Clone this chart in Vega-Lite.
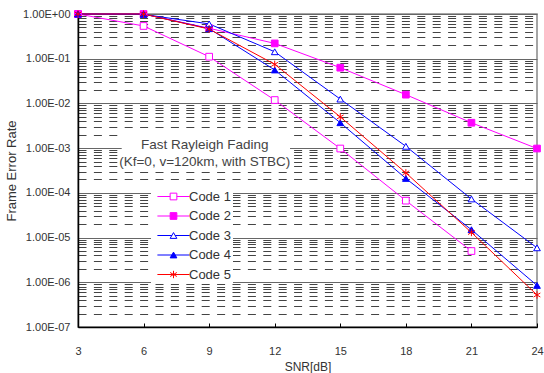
{
  "$schema": "https://vega.github.io/schema/vega-lite/v6.json",
  "width": 459,
  "height": 313,
  "autosize": {"type": "none"},
  "padding": {"left": 78, "top": 14, "right": 7, "bottom": 46},
  "background": "white",
  "config": {
    "font": "Liberation Sans",
    "view": {"stroke": "#888888", "strokeWidth": 1.5},
    "legend": {
      "orient": "none",
      "legendX": 73,
      "legendY": 174,
      "padding": 2,
      "symbolSize": 49,
      "symbolStrokeWidth": 1,
      "symbolOpacity": 1,
      "symbolOffset": 14,
      "labelOffset": 9,
      "labelFontSize": 13,
      "labelColor": "#333333",
      "rowPadding": 5.5
    }
  },
  "resolve": {"scale": {"color": "independent", "fill": "independent", "shape": "independent", "size": "independent"}},
  "datasets": {
    "fer": [
      {"snr": 3, "fer": 1.0, "code": "Code 1"},
      {"snr": 6, "fer": 0.54, "code": "Code 1"},
      {"snr": 9, "fer": 0.111, "code": "Code 1"},
      {"snr": 12, "fer": 0.0119, "code": "Code 1"},
      {"snr": 15, "fer": 0.00098, "code": "Code 1"},
      {"snr": 18, "fer": 6.7e-5, "code": "Code 1"},
      {"snr": 21, "fer": 5.0e-6, "code": "Code 1"},
      {"snr": 3, "fer": 1.0, "code": "Code 2"},
      {"snr": 6, "fer": 1.0, "code": "Code 2"},
      {"snr": 9, "fer": 0.48, "code": "Code 2"},
      {"snr": 12, "fer": 0.22, "code": "Code 2"},
      {"snr": 15, "fer": 0.063, "code": "Code 2"},
      {"snr": 18, "fer": 0.0157, "code": "Code 2"},
      {"snr": 21, "fer": 0.0037, "code": "Code 2"},
      {"snr": 24, "fer": 0.00098, "code": "Code 2"},
      {"snr": 3, "fer": 1.0, "code": "Code 3"},
      {"snr": 6, "fer": 0.98, "code": "Code 3"},
      {"snr": 9, "fer": 0.6, "code": "Code 3"},
      {"snr": 12, "fer": 0.143, "code": "Code 3"},
      {"snr": 15, "fer": 0.0125, "code": "Code 3"},
      {"snr": 18, "fer": 0.0011, "code": "Code 3"},
      {"snr": 21, "fer": 7.3e-5, "code": "Code 3"},
      {"snr": 24, "fer": 5.9e-6, "code": "Code 3"},
      {"snr": 3, "fer": 1.0, "code": "Code 4"},
      {"snr": 6, "fer": 1.0, "code": "Code 4"},
      {"snr": 9, "fer": 0.47, "code": "Code 4"},
      {"snr": 12, "fer": 0.056, "code": "Code 4"},
      {"snr": 15, "fer": 0.0037, "code": "Code 4"},
      {"snr": 18, "fer": 0.00021, "code": "Code 4"},
      {"snr": 21, "fer": 1.5e-5, "code": "Code 4"},
      {"snr": 24, "fer": 8.5e-7, "code": "Code 4"},
      {"snr": 3, "fer": 1.0, "code": "Code 5"},
      {"snr": 6, "fer": 1.0, "code": "Code 5"},
      {"snr": 9, "fer": 0.46, "code": "Code 5"},
      {"snr": 12, "fer": 0.075, "code": "Code 5"},
      {"snr": 15, "fer": 0.005, "code": "Code 5"},
      {"snr": 18, "fer": 0.00028, "code": "Code 5"},
      {"snr": 21, "fer": 1.3e-5, "code": "Code 5"},
      {"snr": 24, "fer": 5.2e-7, "code": "Code 5"}
    ],
    "note": [
      {"line1": "Fast Rayleigh Fading", "line2": "(Kf=0, v=120km, with STBC)"}
    ]
  },
  "layer": [
    {
      "data": {"name": "note"},
      "mark": {"type": "rect", "fill": "white", "zindex": 1},
      "encoding": {
        "x": {"datum": 5.0, "type": "quantitative"},
        "x2": {"datum": 12.7},
        "y": {"datum": 0.0022, "type": "quantitative"},
        "y2": {"datum": 0.00033}
      }
    },
    {
      "data": {"name": "note"},
      "mark": {"type": "text", "fontSize": 13.5, "color": "#444444", "lineHeight": 17, "align": "center", "baseline": "middle", "zindex": 2},
      "encoding": {
        "x": {"datum": 8.8, "type": "quantitative"},
        "y": {"datum": 0.00115, "type": "quantitative"},
        "text": {"value": ["Fast Rayleigh Fading", "(Kf=0, v=120km, with STBC)"]}
      }
    },
    {
      "data": {"name": "fer"},
      "mark": {"type": "line", "strokeWidth": 1, "zindex": 3},
      "encoding": {
        "x": {
          "field": "snr",
          "type": "quantitative",
          "scale": {"domain": [3, 24], "nice": false, "zero": false},
          "axis": {
            "values": [3, 6, 9, 12, 15, 18, 21, 24],
            "grid": false,
            "title": "SNR[dB]",
            "titleFontSize": 12,
            "titleFontWeight": "normal",
            "titleColor": "#333333",
            "titlePadding": 5,
            "labelFontSize": 11,
            "labelColor": "#333333",
            "labelPadding": 22,
            "tickSize": -4,
            "tickColor": "#000000",
            "domainColor": "#000000",
            "domainWidth": 1.5,
            "labelFlush": false,
            "labelOverlap": false
          }
        },
        "y": {
          "field": "fer",
          "type": "quantitative",
          "scale": {"type": "log", "domain": [1e-7, 1], "nice": false},
          "axis": {
            "values": [1e-7, 2e-7, 3e-7, 4e-7, 5e-7, 6e-7, 7e-7, 8e-7, 9e-7,
                       1e-6, 2e-6, 3e-6, 4e-6, 5e-6, 6e-6, 7e-6, 8e-6, 9e-6,
                       1e-5, 2e-5, 3e-5, 4e-5, 5e-5, 6e-5, 7e-5, 8e-5, 9e-5,
                       1e-4, 2e-4, 3e-4, 4e-4, 5e-4, 6e-4, 7e-4, 8e-4, 9e-4,
                       1e-3, 2e-3, 3e-3, 4e-3, 5e-3, 6e-3, 7e-3, 8e-3, 9e-3,
                       1e-2, 2e-2, 3e-2, 4e-2, 5e-2, 6e-2, 7e-2, 8e-2, 9e-2,
                       1e-1, 2e-1, 3e-1, 4e-1, 5e-1, 6e-1, 7e-1, 8e-1, 9e-1, 1],
            "labelExpr": "abs(log(datum.value)/LN10 - round(log(datum.value)/LN10)) < 0.001 ? '1.00E' + (round(log(datum.value)/LN10) >= 0 ? '+' : '-') + '0' + abs(round(log(datum.value)/LN10)) : ''",
            "labelOverlap": false,
            "labelBound": false,
            "labelFlush": false,
            "labelFontSize": 11,
            "labelColor": "#333333",
            "labelPadding": 8,
            "ticks": false,
            "domainColor": "#000000",
            "domainWidth": 1.5,
            "grid": true,
            "gridColor": {"condition": {"test": "abs(log(datum.value)/LN10 - round(log(datum.value)/LN10)) < 0.001", "value": "#666666"}, "value": "#444444"},
            "gridDash": {"condition": {"test": "abs(log(datum.value)/LN10 - round(log(datum.value)/LN10)) < 0.001", "value": []}, "value": [8, 7.4]},
            "gridWidth": 1,
            "title": "Frame Error Rate",
            "titleFontSize": 13,
            "titleFontWeight": "normal",
            "titleColor": "#333333",
            "titlePadding": 4
          }
        },
        "color": {
          "field": "code",
          "type": "nominal",
          "scale": {"domain": ["Code 1", "Code 2", "Code 3", "Code 4", "Code 5"], "range": ["#ff00ff", "#ff00ff", "#0000ff", "#0000ff", "#ff0000"]},
          "legend": {
            "title": null,
            "symbolType": "M-4.6,0H4.6",
            "fillColor": "white",
            "zindex": 5
          }
        }
      }
    },
    {
      "data": {"name": "fer"},
      "mark": {"type": "point", "filled": false, "opacity": 1, "strokeWidth": 1, "zindex": 4},
      "encoding": {
        "x": {"field": "snr", "type": "quantitative"},
        "y": {"field": "fer", "type": "quantitative"},
        "color": {
          "field": "code",
          "type": "nominal",
          "scale": {"domain": ["Code 1", "Code 2", "Code 3", "Code 4", "Code 5"], "range": ["#ff00ff", "#ff00ff", "#0000ff", "#0000ff", "#ff0000"]},
          "legend": {
            "title": null,
            "labelOpacity": 0,
            "zindex": 6
          }
        },
        "fill": {
          "field": "code",
          "type": "nominal",
          "scale": {"domain": ["Code 1", "Code 2", "Code 3", "Code 4", "Code 5"], "range": ["white", "#ff00ff", "white", "#0000ff", "transparent"]},
          "legend": null
        },
        "shape": {
          "field": "code",
          "type": "nominal",
          "scale": {"domain": ["Code 1", "Code 2", "Code 3", "Code 4", "Code 5"], "range": ["square", "square", "triangle-up", "triangle-up", "M0,-1.1V1.1M-1,-0.6L1,0.6M-1,0.6L1,-0.6"]},
          "legend": null
        },
        "size": {
          "field": "code",
          "type": "nominal",
          "scale": {"domain": ["Code 1", "Code 2", "Code 3", "Code 4", "Code 5"], "range": [45, 45, 60, 60, 49]},
          "legend": null
        }
      }
    }
  ]
}
